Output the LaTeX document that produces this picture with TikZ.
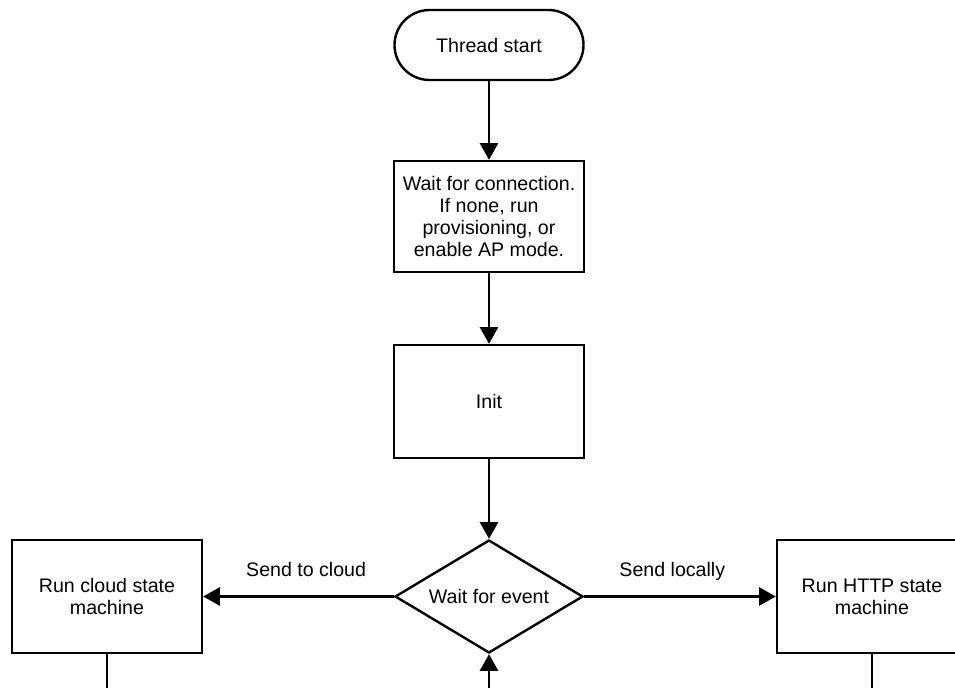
\documentclass[tikz,border=0pt]{standalone}
\usepackage{fontspec}
\setmainfont{Liberation Sans}
\usetikzlibrary{shapes.geometric,arrows.meta}
\begin{document}
\begin{tikzpicture}[x=0.5pt,y=-0.5pt,
	every node/.style={font=\fontsize{9.8}{10.9}\selectfont, align=center},
	block/.style={draw, line width=1.2pt, minimum width=95pt, minimum height=56.5pt, inner sep=2pt},
	terminal/.style={draw, line width=1.2pt, rounded corners=17.5pt, minimum width=94.5pt, minimum height=35pt},
	decision/.style={draw, diamond, aspect=1.66, line width=1.2pt, minimum width=94pt, minimum height=56.5pt, inner sep=0pt},
	flow/.style={line width=1.2pt, -{Triangle[length=8.3pt,width=9pt]}},
	plain/.style={line width=1.2pt},
	lbl/.style={above=6pt, pos=0.46, text depth=0pt}]
\useasboundingbox (0,0) rectangle (955,687);
\clip (0,0) rectangle (955,687);
	% main column
	\node[terminal] (start) at (489,45) {Thread start};
	\node[block, minimum height=55.5pt] (connect) at (489,216.5) {Wait for connection.\\If none, run\\provisioning, or\\enable AP mode.};
	\node[block] (init) at (489,401.5) {Init};
	\node[decision] (event) at (489,596.5) {Wait for event};

	% the two state machines
	\node[block] (cloud) at (107,596.5) {Run cloud state\\machine};
	\node[block] (http) at (872,596.5) {Run HTTP state\\machine};

	\draw[flow] (start) -- (connect);
	\draw[flow] (connect) -- (init);
	\draw[flow] (init) -- (event);
	\draw[flow] (event) -- node[lbl] {Send to cloud} (cloud);
	\draw[flow] (event) -- node[lbl] {Send locally} (http);

	% lines running off the bottom edge
	\coordinate (cloudout) at (107,700);
	\coordinate (loopin) at (489,700);
	\coordinate (httpout) at (872,700);
	\draw[plain] (cloud) -- (cloudout);
	\draw[flow] (loopin) -- (event);
	\draw[plain] (http) -- (httpout);
\end{tikzpicture}
\end{document}
